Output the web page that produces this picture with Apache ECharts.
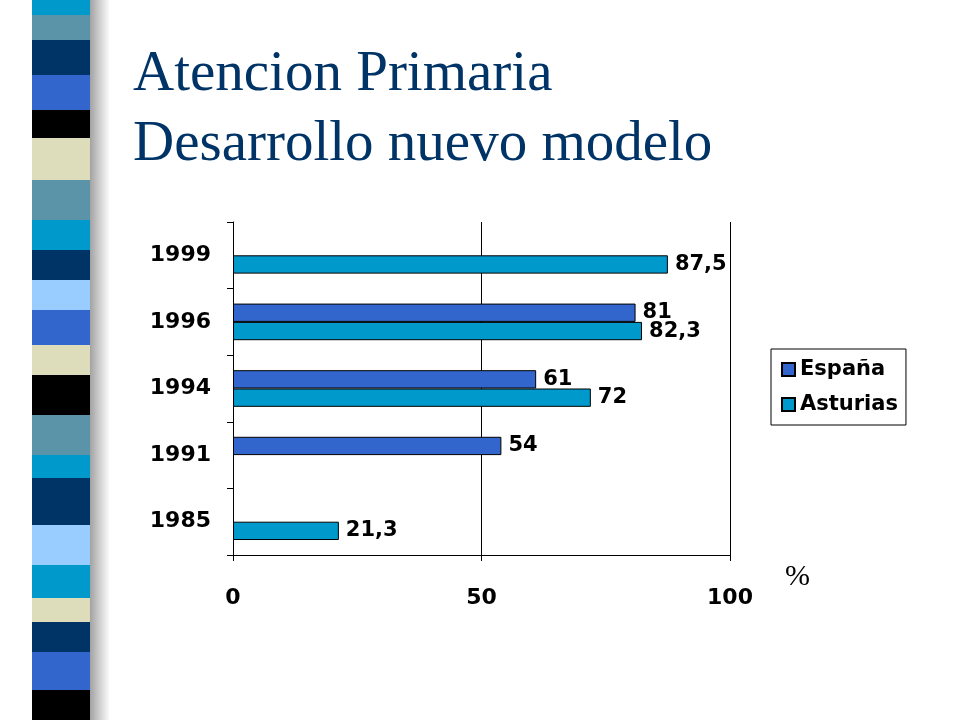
<!DOCTYPE html><html><head><meta charset="utf-8">
<script src="https://cdn.jsdelivr.net/npm/echarts@6/dist/echarts.min.js"></script>
<style>html,body{margin:0;background:#fff}#c{width:960px;height:720px}</style></head><body><div id="c"></div>
<script>
const categories=['1985','1991','1994','1996','1999'];
const espana=[null,54,61,81,null];
const asturias=[21.3,null,72,82.3,87.5];
const xTicks=[0,50,100];
const stripes=[[0,15,'#0099CC'],[15,40,'#5B93A8'],[40,75,'#003366'],[75,110,'#3366CC'],[110,138,'#000000'],[138,180,'#DDDDBB'],[180,220,'#5B93A8'],[220,250,'#0099CC'],[250,280,'#003366'],[280,310,'#99CCFF'],[310,345,'#3366CC'],[345,375,'#DDDDBB'],[375,415,'#000000'],[415,455,'#5B93A8'],[455,478,'#0099CC'],[478,525,'#003366'],[525,565,'#99CCFF'],[565,598,'#0099CC'],[598,622,'#DDDDBB'],[622,652,'#003366'],[652,690,'#3366CC'],[690,720,'#000000']];
const g=[{type:'rect',shape:{x:88,y:0,width:22,height:720},style:{fill:new echarts.graphic.LinearGradient(0,0,1,0,[{offset:0,color:'#999'},{offset:1,color:'#fff'}])},z:-2}];
stripes.forEach(s=>g.push({type:'rect',shape:{x:32,y:s[0],width:58,height:s[1]-s[0]},style:{fill:s[2]}}));
g.push({type:'text',left:133,top:40,style:{text:'Atencion Primaria\nDesarrollo nuevo modelo',font:'57px "Liberation Serif"',fill:'#003366',lineHeight:70}});
g.push({type:'text',left:785,top:562,style:{text:'%',font:'30px "Liberation Serif"',fill:'#000'}});
const lbl={show:true,position:'right',formatter:p=>String(p.value).replace('.',','),fontWeight:'bold',fontSize:21,fontFamily:'DejaVu Sans',color:'#000',distance:7};
const chart=echarts.init(document.getElementById('c'));
chart.setOption({animation:false,graphic:g,
grid:{left:233,right:230,top:222,bottom:165},
legend:{data:['España','Asturias'],orient:'vertical',left:771,top:349,padding:[10,8,10,10],itemGap:14,itemWidth:13,itemHeight:13,borderColor:'#000',borderWidth:1,textStyle:{fontSize:21,fontWeight:'bold',fontFamily:'DejaVu Sans',color:'#000'},icon:'rect'},
xAxis:{type:'value',min:0,max:100,interval:50,axisLine:{show:true,lineStyle:{color:'#000'}},axisTick:{show:true,lineStyle:{color:'#000'},length:6},splitLine:{lineStyle:{color:'#000'}},axisLabel:{fontSize:22,fontWeight:'bold',fontFamily:'DejaVu Sans',color:'#000',margin:32,formatter:v=>xTicks.includes(v)?String(v):''}},
yAxis:{type:'category',data:categories,axisLine:{lineStyle:{color:'#000'}},axisTick:{show:true,length:6,lineStyle:{color:'#000'}},axisLabel:{fontSize:22,fontWeight:'bold',fontFamily:'DejaVu Sans',color:'#000',margin:22}},
series:[
{name:'España',type:'bar',data:espana,barGap:'0%',barCategoryGap:'45%',itemStyle:{color:'#3366CC',borderColor:'#000',borderWidth:1},label:lbl},
{name:'Asturias',type:'bar',data:asturias,itemStyle:{color:'#0099CC',borderColor:'#000',borderWidth:1},label:lbl}
],yAxisInverse:true});
chart.setOption({yAxis:{inverse:false},series:[{},{}]});
</script></body></html>
